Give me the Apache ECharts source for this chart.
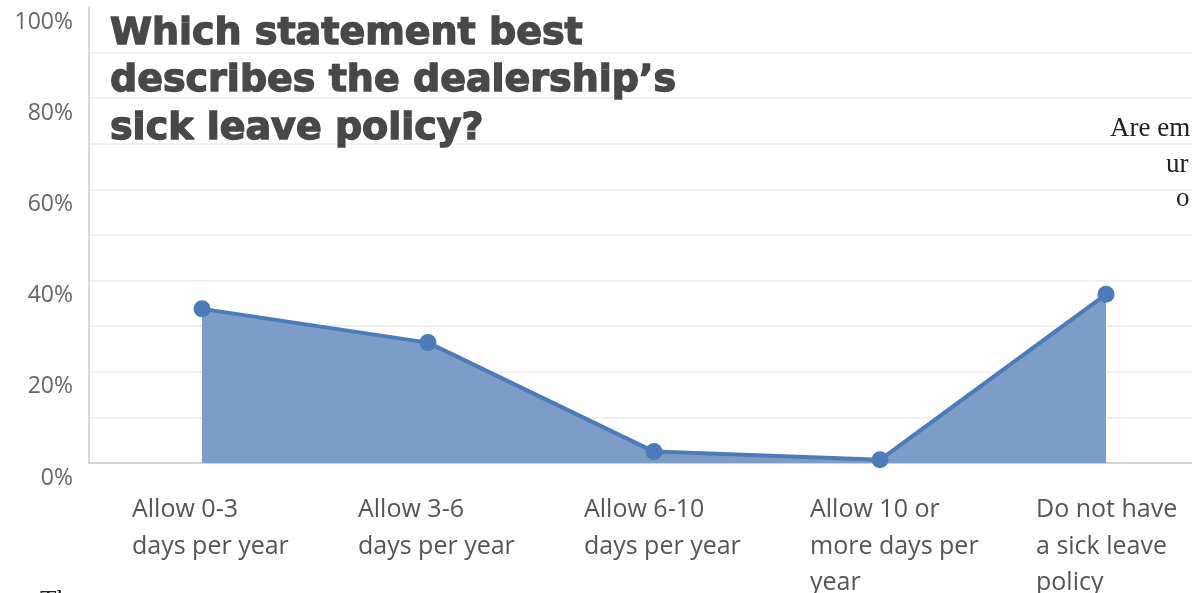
<!DOCTYPE html>
<html>
<head>
<meta charset="utf-8">
<script src="https://cdn.jsdelivr.net/npm/echarts@6/dist/echarts.min.js"></script>
<style>
  html, body { margin: 0; padding: 0; background: #ffffff; }
  #chart { width: 1192px; height: 593px; }
</style>
</head>
<body>
<div id="chart"></div>
<script>
// ---- data ----
const categories = [
  "Allow 0-3\ndays per year",
  "Allow 3-6\ndays per year",
  "Allow 6-10\ndays per year",
  "Allow 10 or\nmore days per\nyear",
  "Do not have\na sick leave\npolicy"
];
const percentValues = [33.8, 26.4, 2.5, 0.7, 37.0];
const yTickValues = [0, 20, 40, 60, 80, 100];
const titleLines = ["Which statement best", "describes the dealership\u2019s", "sick leave policy?"];
const sideTextLines = ["Are em", "ur", "o"];
const footerText = "The";

const chart = echarts.init(document.getElementById('chart'), null, { renderer: 'canvas' });

const option = {
  backgroundColor: '#ffffff',
  animation: false,
  title: {
    text: titleLines.join('\n'),
    left: 110,
    top: 10,
    padding: 0,
    textStyle: {
      fontFamily: 'DejaVu Sans',
      fontWeight: 'bold',
      fontSize: 38,
      lineHeight: 47.5,
      color: '#48484a',
      textBorderColor: '#48484a',
      textBorderWidth: 1.4
    }
  },
  grid: { left: 89, top: 7, width: 1130, height: 456, containLabel: false, outerBoundsMode: 'none' },
  xAxis: {
    type: 'category',
    data: categories,
    boundaryGap: true,
    axisLine: { show: true, lineStyle: { color: '#c8c8c8', width: 1.5 } },
    axisTick: { show: false },
    splitLine: { show: false },
    axisLabel: {
      interval: 0,
      margin: 29,
      align: 'center',
      verticalAlign: 'top',
      formatter: function (v) {
        return v.split('\n').map(function (s) { return '{a|' + s + '}'; }).join('\n');
      },
      rich: {
        a: {
          width: 140,
          align: 'left',
          fontFamily: 'Open Sans',
          fontSize: 25,
          lineHeight: 36.5,
          color: '#555555'
        }
      }
    }
  },
  yAxis: {
    type: 'value',
    min: 0,
    max: 100,
    interval: 10,
    axisLine: { show: true, lineStyle: { color: '#cccccc', width: 1.5 } },
    axisTick: { show: false },
    splitLine: { show: true, showMaxLine: false, lineStyle: { color: '#ebebeb', width: 1.5 } },
    axisLabel: {
      margin: 16,
      fontFamily: 'Open Sans',
      fontSize: 23,
      color: '#666666',
      verticalAlign: 'top',
      lineHeight: 30,
      formatter: function (v) {
        return yTickValues.indexOf(v) >= 0 ? v + '%' : '';
      }
    }
  },
  series: [{
    type: 'line',
    data: percentValues,
    symbol: 'circle',
    symbolSize: 17,
    lineStyle: { color: '#4b7bb8', width: 4 },
    itemStyle: { color: '#4b7bb8' },
    areaStyle: { color: '#7b9dc7', opacity: 1 },
    z: 3
  }],
  graphic: [
    {
      type: 'group',
      children: sideTextLines.map(function (t, i) {
        const xs = [1110, 1166, 1176];
        const ys = [129, 165, 199];
        return {
          type: 'text',
          x: xs[i],
          y: ys[i],
          style: {
            text: t,
            font: '27px "Liberation Serif", "DejaVu Serif", serif',
            fill: '#222222',
            align: 'left',
            verticalAlign: 'middle'
          }
        };
      })
    },
    {
      type: 'text',
      x: 40,
      y: 602,
      style: {
        text: footerText,
        font: '27px "Liberation Serif", "DejaVu Serif", serif',
        fill: '#222222',
        align: 'left',
        verticalAlign: 'middle'
      }
    }
  ]
};

chart.setOption(option);
</script>
</body>
</html>
